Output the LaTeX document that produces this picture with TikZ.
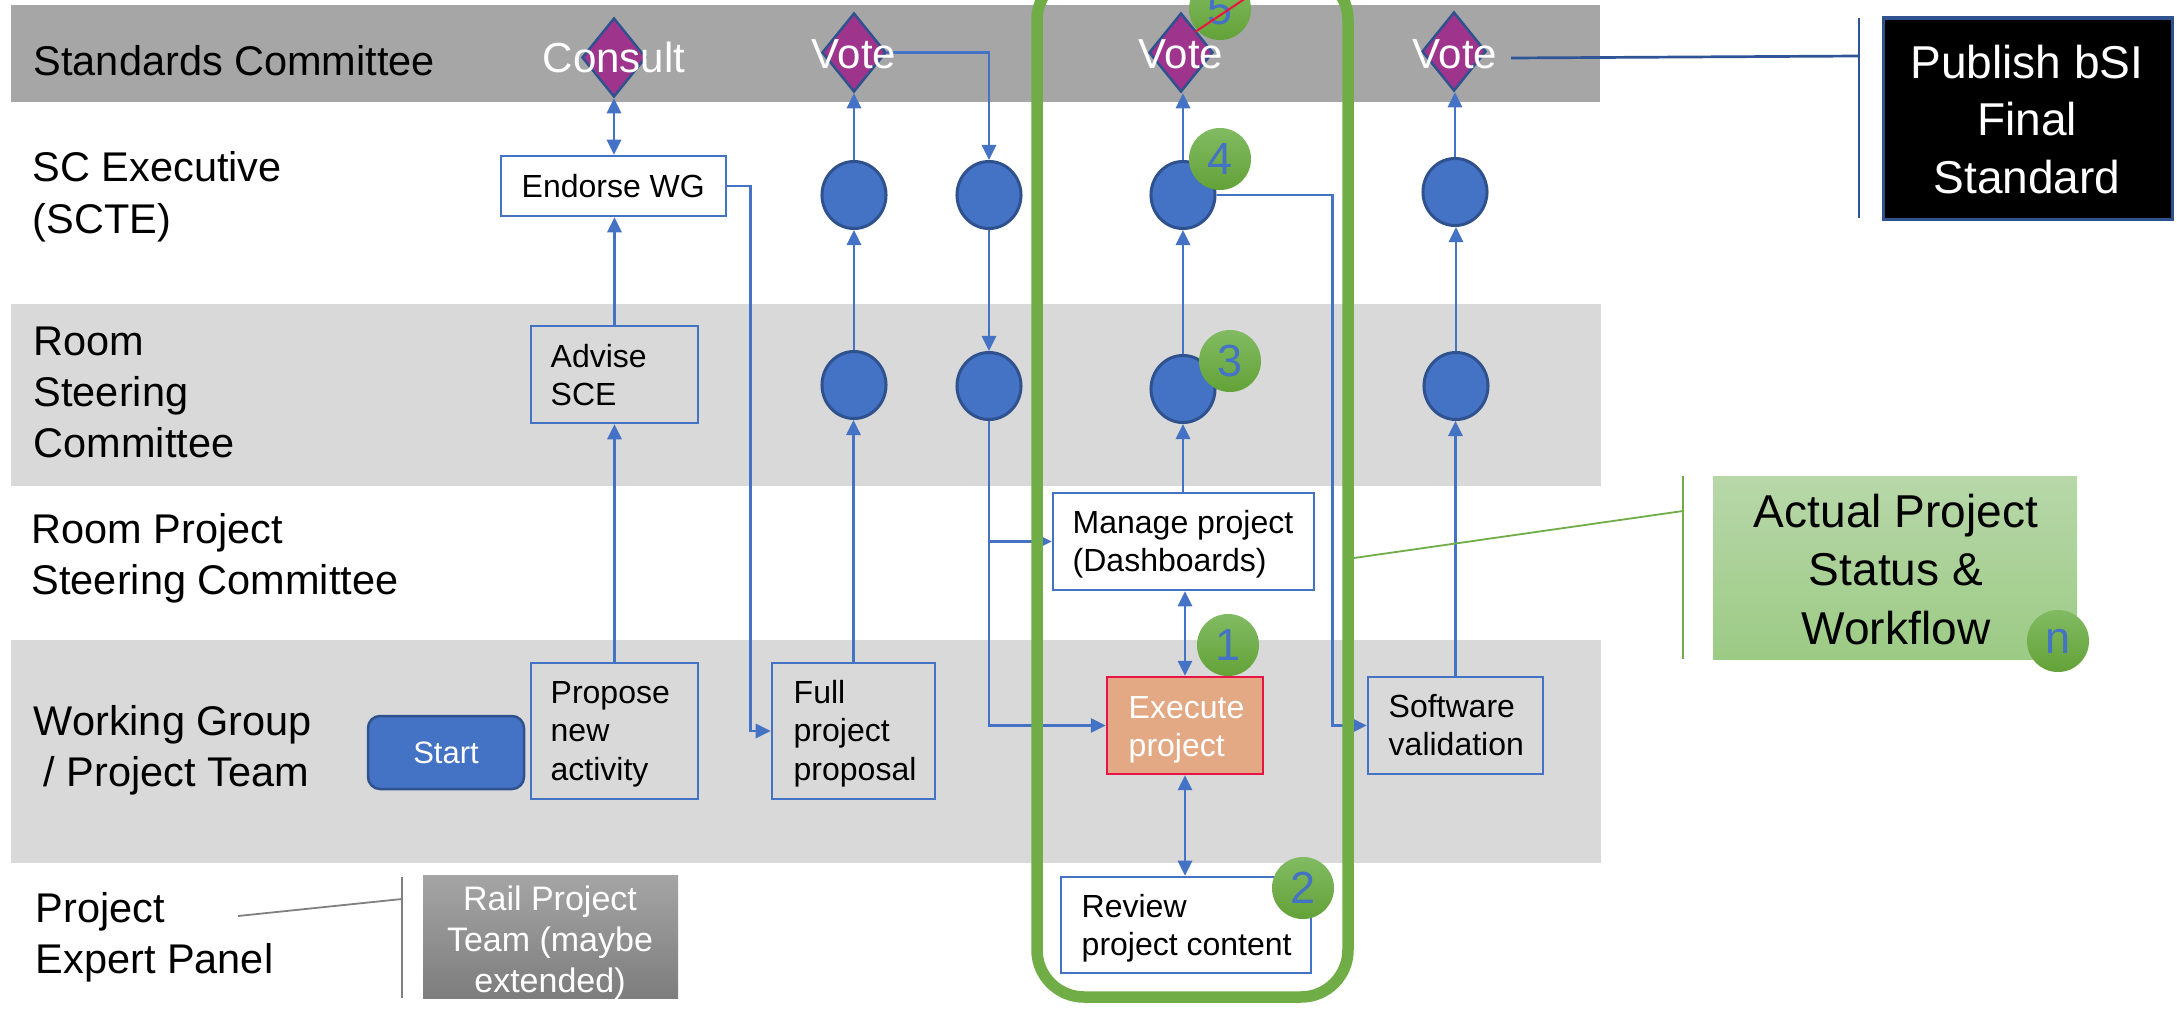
\documentclass[tikz,border=0pt]{standalone}
\usepackage{fontspec}
\setmainfont{Liberation Sans}
\usetikzlibrary{arrows.meta,shapes.geometric}
\definecolor{bandDark}{RGB}{166,166,166}
\definecolor{bandLight}{RGB}{217,217,217}
\definecolor{flowBlue}{RGB}{68,114,196}
\definecolor{edgeBlue}{RGB}{47,82,143}
\definecolor{voteFill}{RGB}{158,52,140}
\definecolor{execFill}{RGB}{227,169,132}
\definecolor{execEdge}{RGB}{232,20,72}
\definecolor{frameGreen}{RGB}{112,173,71}
\definecolor{badgeTop}{RGB}{130,187,98}
\definecolor{badgeBot}{RGB}{99,162,56}
\definecolor{actTop}{RGB}{184,215,169}
\definecolor{actBot}{RGB}{156,203,133}
\definecolor{railTop}{RGB}{165,165,165}
\definecolor{railBot}{RGB}{125,125,125}
\definecolor{pubLine}{RGB}{47,85,151}
\definecolor{strikeRed}{RGB}{235,20,60}
\newcommand{\linesL}[1]{\vtop{\halign{##\hfil\cr#1\crcr}}}
\newcommand{\linesC}[1]{\vtop{\halign{\hfil##\hfil\cr#1\crcr}}}
\begin{document}
\begin{tikzpicture}[x=0.01cm, y=-0.01cm,
  lane/.style={anchor=base west, inner sep=0pt, font=\fontsize{11.8}{14.51}\selectfont},
  boxtext/.style={anchor=base west, inner sep=0pt, font=\fontsize{9.1}{10.95}\selectfont},
  stepbox/.style={draw=flowBlue, line width=0.025cm, inner sep=0pt},
  wh/.style 2 args={minimum width=#1*0.01cm, minimum height=#2*0.01cm},
  bluedot/.style={ellipse, draw=edgeBlue, fill=flowBlue, line width=0.03cm, inner sep=0pt, minimum width=0.64cm, minimum height=0.67cm},
  ballot/.style={diamond, draw=edgeBlue, fill=voteFill, line width=0.025cm, inner sep=0pt, minimum width=0.64cm, minimum height=0.79cm},
  votetext/.style={anchor=base, inner sep=0pt, text=white, font=\fontsize{11.95}{14.51}\selectfont},
  badge/.style={circle, top color=badgeTop, bottom color=badgeBot, minimum size=0.62cm, inner sep=0pt, text=flowBlue, font=\fontsize{12.8}{14}\selectfont},
  flow/.style={draw=flowBlue, line width=0.027cm, -{Triangle[length=0.15cm,width=0.14cm]}},
  flow2/.style={draw=flowBlue, line width=0.027cm, {Triangle[length=0.15cm,width=0.14cm]}-{Triangle[length=0.15cm,width=0.14cm]}},
  thinline/.style={line width=0.018cm}
]
\useasboundingbox (0,0) rectangle (2177,1009);
\fill[white] (0,0) rectangle (2177,1009);
\clip (0,0) rectangle (2177,1009);

% swim lanes
\fill[bandDark] (11,5) rectangle (1600,102);
\fill[bandLight] (11,304) rectangle (1601,486);
\fill[bandLight] (11,640) rectangle (1601,863);

% lane labels
\node[lane] (lSC) at (33,75) {Standards Committee};
\node[lane] (lEx) at (32,182) {\linesL{SC Executive\cr (SCTE)}};
\node[lane] (lRS) at (33,355) {\linesL{Room\cr Steering\cr Committee}};
\node[lane] (lRP) at (31,543) {\linesL{Room Project\cr Steering Committee}};
\node[lane] (lWG) at (33,735) {\linesL{Working Group\cr \kern0.1cm/ Project Team}};
\node[lane] (lPE) at (35,922) {\linesL{Project\cr Expert Panel}};

% process boxes
\node[stepbox, fill=white, wh={225}{60}] (endorse) at (613.5,186) {};
\node[boxtext] (endorseT) at (521,197) {Endorse WG};
\node[stepbox, wh={167}{97}] (advise) at (614.5,374.5) {};
\node[boxtext] (adviseT) at (550,367) {\linesL{Advise\cr SCE}};
\node[stepbox, wh={167}{136}] (propose) at (614.5,731) {};
\node[boxtext] (proposeT) at (550,703) {\linesL{Propose\cr new\cr activity}};
\node[stepbox, wh={163}{136}] (full) at (853.5,731) {};
\node[boxtext] (fullT) at (793,703) {\linesL{Full\cr project\cr proposal}};
\node[stepbox, fill=white, wh={261}{97}] (manage) at (1183.5,541.5) {};
\node[boxtext] (manageT) at (1072,533) {\linesL{Manage project\cr (Dashboards)}};
\node[draw=execEdge, fill=execFill, line width=0.022cm, inner sep=0pt, wh={156}{97}] (execute) at (1185,725.5) {};
\node[boxtext, text=white] (executeT) at (1128,718) {\linesL{Execute\cr project}};
\node[stepbox, fill=white, wh={250}{96}] (review) at (1186,925) {};
\node[boxtext] (reviewT) at (1081,917) {\linesL{Review\cr project content}};
\node[stepbox, wh={175}{97}] (software) at (1455.5,725.5) {};
\node[boxtext] (softwareT) at (1388,717) {\linesL{Software\cr validation}};
\node[draw=edgeBlue, fill=flowBlue, line width=0.025cm, rounded corners=0.12cm, inner sep=0pt, wh={156}{73}] (start) at (446,752.5) {};
\node[anchor=base, inner sep=0pt, text=white, font=\fontsize{8.8}{10}\selectfont] (startT) at (446,763) {Start};

% side boxes
\node[draw=edgeBlue, fill=black, line width=0.03cm, inner sep=0pt, wh={289}{201}] (publish) at (2027.5,118.5) {};
\node[anchor=base, inner sep=0pt, text=white, font=\fontsize{13.1}{16.36}\selectfont] (publishT) at (2027,78) {\linesC{Publish bSI\cr Final\cr Standard}};
\node[inner sep=0pt, top color=actTop, bottom color=actBot, wh={364}{183}] (actual) at (1895,567.5) {};
\node[anchor=base, inner sep=0pt, font=\fontsize{13.1}{16.65}\selectfont] (actualT) at (1896,527) {\linesC{Actual Project\cr Status \&\cr Workflow}};
\node[inner sep=0pt, top color=railTop, bottom color=railBot, wh={255}{123}] (rail) at (550.5,936.5) {};
\node[anchor=base, inner sep=0pt, text=white, font=\fontsize{9.67}{11.67}\selectfont] (railT) at (550,910) {\linesC{Rail Project\cr Team (maybe\cr extended)}};

% circles
\node[bluedot] (sA) at (854,195) {};
\node[bluedot] (sB) at (989,195) {};
\node[bluedot] (sC) at (1183,195) {};
\node[bluedot] (sD) at (1455,192) {};
\node[bluedot] (rA) at (854,385) {};
\node[bluedot] (rB) at (989,386) {};
\node[bluedot] (rC) at (1183,389) {};
\node[bluedot] (rD) at (1456,386) {};

% decision diamonds
\node[ballot] (cons) at (614,57.5) {};
\node[ballot] (v1) at (854,52.5) {};
\node[ballot] (v2) at (1181,52.5) {};
\node[ballot] (v3) at (1454,51.5) {};

% connectors
\draw[flow2] (cons.south) -- (cons.south |- endorse.north);
\draw[flow] (advise.north) -- (advise.north |- endorse.south);
\draw[flow] (propose.north) -- (propose.north |- advise.south);
\draw[flow] (endorse.east) -- ++(23,0) |- (full.west);
\draw[flow] (full.north) -- (full.north |- rA.south);
\draw[flow] (rA.north) -- (sA.south);
\draw[flow] (sA.north) -- (v1.south);
\draw[flow] (v1.east) -| (sB.north);
\draw[flow] (sB.south) -- (rB.north);
\draw[flow] (rB.south) |- (execute.west);
\draw[flow] (rB.south |- manage.west) -- (manage.west);
\draw[flow2] (execute.north |- manage.south) -- (execute.north);
\draw[flow] (rC.south |- manage.north) -- (rC.south);
\draw[flow] (rC.north) -- (sC.south);
\draw[flow] (sC.north) -- (sC.north |- v2.south);
\draw[flow2] (execute.south) -- (execute.south |- review.north);
\draw[flow] (sC.east) -- ++(116,0) |- (software.west);
\draw[flow] (software.north) -- (software.north |- rD.south);
\draw[flow] (rD.north) -- (rD.north |- sD.south);
\draw[flow] (sD.north) -- (sD.north |- v3.south);

% diamond texts
\node[votetext] (consT) at (614,72) {Consult};
\node[votetext] (v1T) at (854,68) {Vote};
\node[votetext] (v2T) at (1181,68) {Vote};
\node[votetext] (v3T) at (1455,68) {Vote};

% highlight frame
\draw[frameGreen, line width=0.115cm, rounded corners=0.47cm] (1037,-27) rectangle (1348,997);

% badges
\node[badge] (b1) at (1228,645) {1};
\node[badge] (b2) at (1303,888) {2};
\node[badge] (b3) at (1230,361) {3};
\node[badge] (b4) at (1220,159) {4};
\node[badge] (b5) at (1220,9) {5};
\node[badge] (bn) at (2058,641) {n};

% callout brackets
\coordinate (pubA) at (1511,58);
\coordinate (pubB) at (1859,56);
\coordinate (pubBrT) at (1859,18);
\coordinate (pubBrB) at (1859,218);
\draw[pubLine, line width=0.027cm] (pubA) -- (pubB);
\draw[pubLine, line width=0.022cm] (pubBrT) -- (pubBrB);
\coordinate (frameHook) at (1354,558);
\coordinate (actHook) at (1683,511);
\coordinate (actBrT) at (1683,476);
\coordinate (actBrB) at (1683,659);
\draw[frameGreen, thinline] (frameHook) -- (actHook);
\draw[frameGreen, thinline] (actBrT) -- (actBrB);
\coordinate (panelHook) at (238,916);
\coordinate (railHook) at (402,899);
\coordinate (railBrT) at (402,877);
\coordinate (railBrB) at (402,998);
\draw[gray, thinline] (panelHook) -- (railHook);
\draw[gray, thinline] (railBrT) -- (railBrB);

% strike line
\coordinate (strikeA) at (1195,32);
\coordinate (strikeB) at (1252,-6);
\draw[strikeRed, line width=0.02cm] (strikeA) -- (strikeB);
\end{tikzpicture}
\end{document}
